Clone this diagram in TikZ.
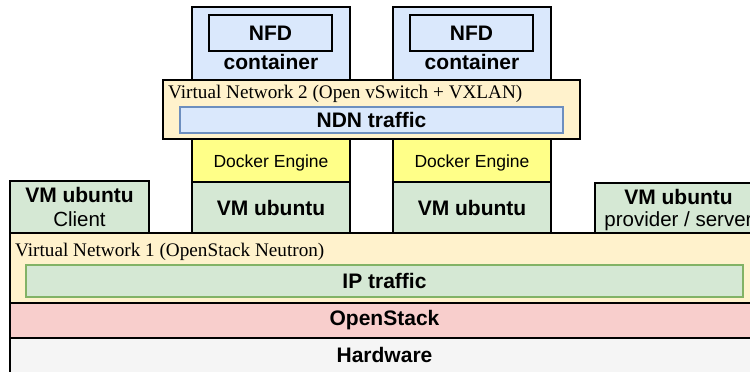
\documentclass[tikz,border=0pt]{standalone}
\usepackage{fontspec}
\setmainfont{Liberation Serif}
\setsansfont{Liberation Sans}
\begin{document}
\begin{tikzpicture}[x=1pt,y=-1pt,
  box/.style={draw=black,line width=1.2pt,inner sep=0pt,font=\sffamily\bfseries\fontsize{21}{24}\selectfont},
  inbox/.style={draw,line width=1.2pt,inner sep=0pt,font=\sffamily\bfseries\fontsize{21}{24}\selectfont},
  lbl/.style={inner sep=0pt,font=\sffamily\bfseries\fontsize{21}{24}\selectfont},
  reg/.style={inner sep=0pt,font=\sffamily\fontsize{20.5}{23}\selectfont},
  dock/.style={inner sep=0pt,font=\sffamily\fontsize{17.5}{20}\selectfont},
  serif/.style={inner sep=0pt,anchor=west,font=\rmfamily\fontsize{19.2}{22}\selectfont}]
\definecolor{cblue}{HTML}{DAE8FC}
\definecolor{cblueb}{HTML}{6C8EBF}
\definecolor{cgreen}{HTML}{D5E8D4}
\definecolor{cgreenb}{HTML}{82B366}
\definecolor{cyel}{HTML}{FFFF88}
\definecolor{cvn}{HTML}{FFF2CC}
\definecolor{cred}{HTML}{F8CECC}
\definecolor{cgray}{HTML}{F5F5F5}
\useasboundingbox (0,0) rectangle (750,372);
\clip (0,0) rectangle (750,372);
% containers
\node[box,fill=cblue,minimum width=158pt,minimum height=73pt] (contL) at (271,43.5) {};
\node[box,fill=cblue,minimum width=158pt,minimum height=73pt] (contR) at (472,43.5) {};
\node[inbox,draw=black,fill=cblue,minimum width=123pt,minimum height=36pt] (nfdL) at (270.5,33) {NFD};
\node[inbox,draw=black,fill=cblue,minimum width=123pt,minimum height=36pt] (nfdR) at (471.5,33) {NFD};
\node[lbl] (ctL) at (271,62) {container};
\node[lbl] (ctR) at (472,62) {container};
% VN2
\node[box,fill=cvn,minimum width=417pt,minimum height=59pt] (vn2) at (371.5,109.5) {};
\node[serif] (vn2l) at (168,94) {Virtual Network 2 (Open vSwitch + VXLAN)};
\node[inbox,draw=cblueb,fill=cblue,minimum width=383pt,minimum height=26pt] (ndn) at (371.5,120) {NDN traffic};
% docker
\node[box,fill=cyel,minimum width=158pt,minimum height=43pt] (dkL) at (271,160.5) {};
\node[box,fill=cyel,minimum width=158pt,minimum height=43pt] (dkR) at (472,160.5) {};
\node[dock] (dkLt) at (271,162.5) {Docker Engine};
\node[dock] (dkRt) at (472,162.5) {Docker Engine};
% VMs
\node[box,fill=cgreen,minimum width=158pt,minimum height=51pt] (vmL) at (271,207.5) {VM ubuntu};
\node[box,fill=cgreen,minimum width=158pt,minimum height=51pt] (vmR) at (472,207.5) {VM ubuntu};
\node[box,fill=cgreen,minimum width=139pt,minimum height=52pt] (cli) at (79.5,207) {};
\node[lbl] (clit) at (79.5,195) {VM ubuntu};
\node[reg] (clis) at (79.5,219) {Client};
\node[box,fill=cgreen,minimum width=167pt,minimum height=50pt] (prv) at (678.5,208) {};
\node[lbl] (prvt) at (678.5,197) {VM ubuntu};
\node[reg] (prvs) at (678.5,221) {provider / server};
% VN1
\node[box,fill=cvn,minimum width=749pt,minimum height=70pt] (vn1) at (384.5,268) {};
\node[serif] (vn1l) at (15,252) {Virtual Network 1 (OpenStack Neutron)};
\node[inbox,draw=cgreenb,fill=cgreen,minimum width=717pt,minimum height=32pt] (ip) at (384.5,281) {IP traffic};
% OpenStack, Hardware
\node[box,fill=cred,minimum width=749pt,minimum height=35pt] (os) at (384.5,320.5) {OpenStack};
\node[box,fill=cgray,minimum width=749pt,minimum height=42pt] (hw) at (384.5,359) {};
\node[lbl] (hwt) at (384.5,355) {Hardware};
\end{tikzpicture}
\end{document}
